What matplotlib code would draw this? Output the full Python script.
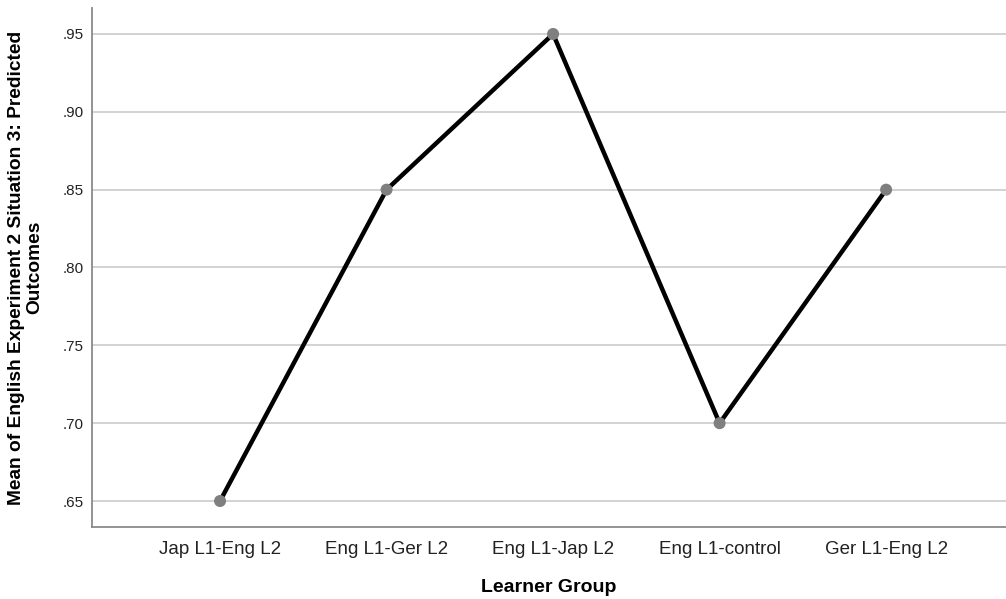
import matplotlib
matplotlib.use("Agg")
import matplotlib.pyplot as plt
from matplotlib.ticker import FuncFormatter

categories = ["Jap L1-Eng L2", "Eng L1-Ger L2", "Eng L1-Jap L2", "Eng L1-control", "Ger L1-Eng L2"]
means = [0.65, 0.85, 0.95, 0.70, 0.85]
yticks = [0.65, 0.70, 0.75, 0.80, 0.85, 0.90, 0.95]

plt.rcParams['font.family'] = ['Liberation Sans', 'DejaVu Sans']

W, H = 1006, 599
fig = plt.figure(figsize=(W / 100, H / 100), dpi=100)
ax = fig.add_axes([92 / W, (H - 527) / H, (1006 - 92) / W, (527 - 8) / H])

x = list(range(len(categories)))
ax.plot(x, means, color='black', linewidth=3.2, zorder=3, solid_capstyle='round')
ax.scatter(x, means, s=75, color='#7f7f7f', zorder=4, edgecolors='none')

ax.set_xlim(-0.769, 4.72)
ax.set_ylim(0.6333, 0.9667)
ax.set_yticks(yticks)
ax.yaxis.set_major_formatter(FuncFormatter(lambda v, p: f"{v:.2f}".lstrip('0')))
ax.set_xticks(x)
ax.set_xticklabels(categories)
ax.tick_params(axis='x', length=0, labelsize=13.5, labelcolor='#222222', pad=10)
ax.tick_params(axis='y', length=0, labelsize=11, labelcolor='#222222', pad=6)
ax.grid(axis='y', color='#cfcfcf', linewidth=1.3, zorder=0)
ax.set_axisbelow(True)

for s in ['top', 'right']:
    ax.spines[s].set_visible(False)
for s in ['left', 'bottom']:
    ax.spines[s].set_color('#8a8a8a')
    ax.spines[s].set_linewidth(1.3)

ax.set_xlabel("Learner Group", fontsize=14, fontweight='bold', labelpad=15)
ax.set_ylabel("Mean of English Experiment 2 Situation 3: Predicted\nOutcomes",
              fontsize=13.8, fontweight='bold', labelpad=14, linespacing=1.05)

fig.savefig("out.png", dpi=100, facecolor='white')
